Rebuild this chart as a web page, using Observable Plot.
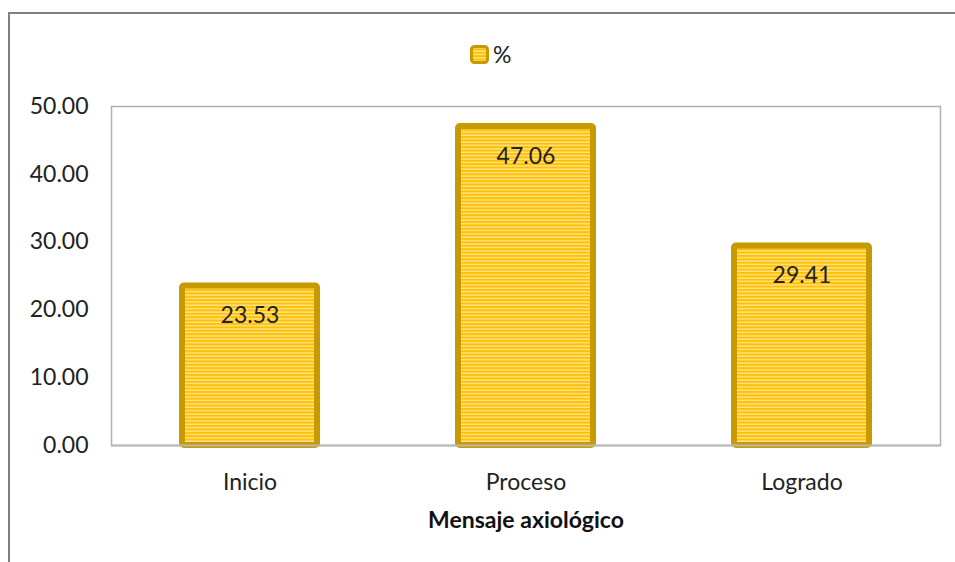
<!DOCTYPE html>
<html>
<head>
<meta charset="utf-8">
<script src="https://cdn.jsdelivr.net/npm/d3@7"></script>
<script src="https://cdn.jsdelivr.net/npm/@observablehq/plot@0.6"></script>
<style>
  html, body { margin: 0; padding: 0; background: #fff; }
  #wrap { position: relative; width: 955px; height: 562px; overflow: hidden; font-family: Lato, "Noto Sans", sans-serif; }
  #outer { position: absolute; left: 8px; top: 12px; width: 1000px; height: 600px; border-left: 2px solid #808080; border-top: 2px solid #808080; box-sizing: border-box; }
  #legend { position: absolute; left: 470px; top: 40px; display: flex; align-items: center; gap: 4px; font-size: 23px; color: #222; }
  #chart { position: absolute; left: 0; top: 0; }
</style>
</head>
<body>
<div id="wrap">
  <div id="outer"></div>
  <div id="chart"></div>
  <div id="legend"><svg width="19" height="19"><defs><pattern id="lstripes" patternUnits="userSpaceOnUse" width="4" height="3.4"><rect width="4" height="3.4" fill="#ffe490"/><rect width="4" height="2" fill="#ffc000"/></pattern></defs><rect x="1.5" y="1.5" width="16" height="16" rx="3" fill="url(#lstripes)" stroke="#c79a00" stroke-width="3"/></svg><span>%</span></div>
</div>
<script>
const categories = ["Inicio", "Proceso", "Logrado"];
const values = [23.53, 47.06, 29.41];
const yTicks = [0, 10, 20, 30, 40, 50];
const seriesName = "%";
const xTitle = "Mensaje axiológico";

const data = categories.map((c, i) => ({cat: c, v: values[i]}));

const plot = Plot.plot({
  width: 955,
  height: 562,
  marginLeft: 111,
  marginRight: 15,
  marginTop: 106,
  marginBottom: 117,
  style: {fontFamily: "Lato, 'Noto Sans', sans-serif", fontSize: "23px", color: "#222", background: "transparent"},
  x: {domain: categories, paddingInner: 0.511, paddingOuter: 0.2555, label: null, tickSize: 0, tickPadding: 28},
  y: {domain: [0, 50], ticks: yTicks, tickFormat: d3.format(".2f"), label: null, tickSize: 0, tickPadding: 23},
  marks: [
    Plot.frame({stroke: "#b0b0b0", strokeWidth: 1.5}),
    Plot.barY(data, {x: "cat", y: "v", fill: "url(#stripes)", stroke: "#c79a00", strokeWidth: 6, rx: 2}),
    Plot.ruleY([0], {stroke: "#b8b8b8", strokeWidth: 2}),
    Plot.text(data, {x: "cat", y: "v", text: d => d3.format(".2f")(d.v), dy: 30, fill: "#222", fontSize: 23}),
    Plot.text([xTitle], {frameAnchor: "bottom", dy: 82, fontWeight: "bold", fontSize: 23, fill: "#111"})
  ]
});

const svg = d3.select(plot);
const defs = svg.insert("defs", ":first-child");
const pat = defs.append("pattern").attr("id", "stripes").attr("patternUnits", "userSpaceOnUse").attr("width", 4).attr("height", 3.4);
pat.append("rect").attr("width", 4).attr("height", 3.4).attr("fill", "#ffe490");
pat.append("rect").attr("width", 4).attr("height", 2).attr("fill", "#ffc000");

document.getElementById("chart").appendChild(plot);
</script>
</body>
</html>
